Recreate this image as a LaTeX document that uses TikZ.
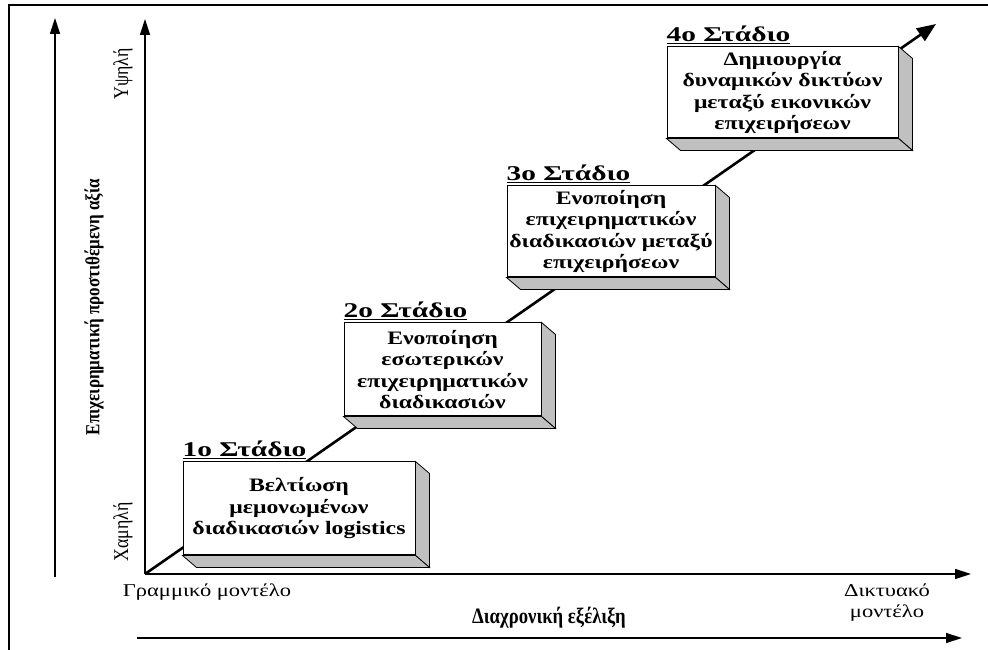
\documentclass[tikz,border=0pt]{standalone}
\usepackage{fontspec}
\setmainfont{Liberation Serif}
\newfontfamily\wideface[FakeStretch=1.25]{Liberation Serif}
\newfontfamily\stageface[FakeStretch=1.4]{Liberation Serif}
\newfontfamily\narrowface[FakeStretch=0.85]{Liberation Serif}
\usepackage{tikz}
\usetikzlibrary{arrows.meta}
\usetikzlibrary{positioning}
\usetikzlibrary{calc}
\definecolor{facegray}{RGB}{192,192,192}
\tikzset{
	frameline/.style={draw=black, line width=1.2pt},
	axis/.style={draw=black, line width=1.3pt, -{Triangle[length=16pt,width=10pt]}},
	trend/.style={draw=black, line width=2.6pt, -{Triangle[length=19pt,width=15pt]}},
	stagebox/.style={draw=black, line width=1pt, fill=white, align=center, inner sep=0pt,
		font=\wideface\bfseries\fontsize{19}{21.5}\selectfont},
	stagelabel/.style={anchor=base west, inner sep=0pt,
		font=\stageface\bfseries\fontsize{21}{21}\selectfont},
	sideface/.style={draw=black, line width=0.8pt, fill=facegray},
	axislabel/.style={inner sep=0pt, font=\wideface\fontsize{18}{21}\selectfont, align=center},
	tilted/.style={inner sep=0pt, rotate=90, font=\narrowface\fontsize{21}{21}\selectfont},
}
\newcommand{\depthface}[1]{%
	\draw[sideface] (#1.north east) -- ++(14,-12) -- ++($(#1.south east)-(#1.north east)$) -- (#1.south east) -- cycle;
	\draw[sideface] (#1.south west) -- (#1.south east) -- ++(14,-12) -- ++($(#1.south west)-(#1.south east)$) -- cycle;
}

\begin{document}
\begin{tikzpicture}[x=1pt, y=1pt]
	\useasboundingbox (0,0) rectangle (988,650);
	\draw[frameline] (9,0) -- (9,645) -- (988,645);

	% axes
	\coordinate (o) at (145,76);
	\coordinate (ytip) at (145,631);
	\coordinate (xtip) at (971,76);
	\coordinate (vbot) at (55,73);
	\coordinate (vtop) at (55,632);
	\coordinate (hleft) at (137,12);
	\coordinate (hright) at (962,12);
	\coordinate (ttip) at (936,626);
	\draw[axis] (vbot) -- (vtop);
	\draw[axis] (hleft) -- (hright);
	\draw[trend] (o) -- (ttip);
	\draw[axis] (o) -- (ytip);
	\draw[axis] (o) -- (xtip);

	\node[tilted, font=\narrowface\bfseries\fontsize{20}{20}\selectfont] (value) at (94,343) {Επιχειρηματική προστιθέμενη αξία};
	\node[tilted] (high) at (123,576) {Υψηλή};
	\node[tilted] (low) at (123,118) {Χαμηλή};
	\node[axislabel] (linear) at (207,58) {Γραμμικό μοντέλο};
	\node[axislabel] (network) at (887,47) {Δικτυακό\\μοντέλο};
	\node[inner sep=0pt, font=\narrowface\bfseries\fontsize{22}{22}\selectfont] (time) at (549,32) {Διαχρονική εξέλιξη};

	% stages
	\node[stagebox, minimum width=232pt, minimum height=93pt] (b1) at (299,141.5)
		{Βελτίωση\\μεμονωμένων\\διαδικασιών logistics};
	\depthface{b1}
	\node[stagebox, minimum width=197pt, minimum height=93pt] (b2) at (442.5,280.5)
		{Ενοποίηση\\εσωτερικών\\επιχειρηματικών\\διαδικασιών};
	\depthface{b2}
	\node[stagebox, minimum width=208pt, minimum height=91pt] (b3) at (611,418.5)
		{Ενοποίηση\\επιχειρηματικών\\διαδικασιών μεταξύ\\επιχειρήσεων};
	\depthface{b3}
	\node[stagebox, minimum width=231pt, minimum height=91pt] (b4) at (782.5,557.5)
		{Δημιουργία\\δυναμικών δικτύων\\μεταξύ εικονικών\\επιχειρήσεων};
	\depthface{b4}

	\node[stagelabel] (s1) at ([yshift=5pt]b1.north west) {\underline{1ο Στάδιο}};
	\node[stagelabel] (s2) at ([yshift=5pt]b2.north west) {\underline{2ο Στάδιο}};
	\node[stagelabel] (s3) at ([yshift=5pt]b3.north west) {\underline{3ο Στάδιο}};
	\node[stagelabel] (s4) at ([yshift=5pt]b4.north west) {\underline{4ο Στάδιο}};
\end{tikzpicture}
\end{document}
